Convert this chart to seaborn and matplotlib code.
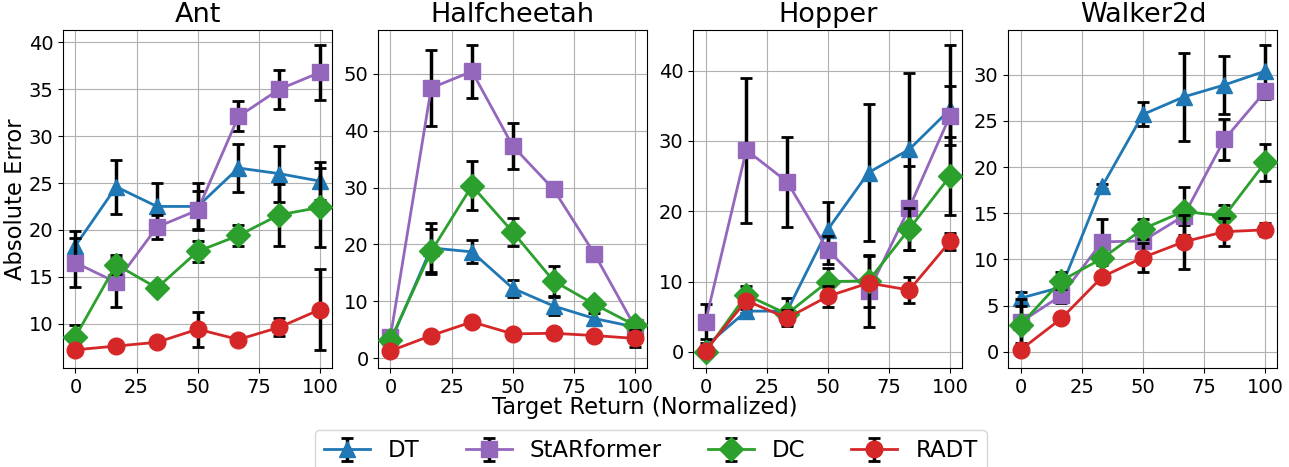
import numpy as np
import pandas as pd
import matplotlib
matplotlib.use("Agg")
import matplotlib.pyplot as plt
import seaborn as sns

# --- datos ---
x_vals = [0, 16.67, 33.33, 50, 66.67, 83.33, 100]
envs = ["Ant", "Halfcheetah", "Hopper", "Walker2d"]
methods = ["DT", "StARformer", "DC", "RADT"]

ant_dt = [18.3, 24.6, 22.5, 22.5, 26.6, 26.0, 25.2]
ant_dt_err = [1.6, 2.9, 2.5, 2.5, 2.6, 3.0, 2.0]
ant_star = [16.5, 14.4, 20.3, 22.1, 32.1, 35.0, 36.8]
ant_star_err = [2.6, 2.6, 1.3, 2.0, 1.6, 2.1, 2.9]
ant_dc = [8.6, 16.3, 13.8, 17.7, 19.4, 21.6, 22.4]
ant_dc_err = [1.3, 1.0, 0.5, 1.15, 1.1, 3.3, 4.2]
ant_radt = [7.2, 7.6, 8.0, 9.4, 8.3, 9.6, 11.5]
ant_radt_err = [0.3, 0.3, 0.3, 1.85, 0.4, 0.95, 4.3]

hc_dt = [2.9, 19.4, 18.7, 12.3, 9.2, 7.0, 5.5]
hc_dt_err = [0.5, 4.3, 2.0, 1.5, 1.6, 1.0, 0.5]
hc_star = [3.8, 47.5, 50.4, 37.3, 29.7, 18.4, 5.5]
hc_star_err = [0.5, 6.7, 4.6, 4.1, 1.0, 0.5, 0.5]
hc_dc = [3.2, 18.8, 30.3, 22.2, 13.6, 9.5, 5.8]
hc_dc_err = [0.5, 4.0, 4.3, 2.5, 2.6, 0.5, 0.5]
hc_radt = [1.3, 4.0, 6.4, 4.3, 4.4, 4.0, 3.5]
hc_radt_err = [0.3, 0.3, 0.3, 0.3, 0.3, 0.3, 1.5]

hop_dt = [0.8, 5.8, 5.8, 17.4, 25.5, 28.8, 34.5]
hop_dt_err = [0.5, 0.3, 1.8, 3.9, 9.7, 10.8, 9.1]
hop_star = [4.3, 28.7, 24.2, 14.5, 8.6, 20.5, 33.6]
hop_star_err = [2.5, 10.3, 6.4, 2.0, 5.1, 6.0, 4.2]
hop_dc = [0.0, 8.1, 5.4, 10.0, 10.1, 17.5, 25.0]
hop_dc_err = [0.1, 1.3, 0.5, 2.0, 3.7, 3.0, 5.6]
hop_radt = [0.2, 7.3, 4.8, 7.9, 9.8, 8.8, 15.7]
hop_radt_err = [0.2, 0.5, 1.1, 1.5, 0.5, 1.9, 1.2]

wk_dt = [5.8, 7.0, 17.9, 25.7, 27.6, 28.9, 30.4]
wk_dt_err = [0.7, 0.4, 0.3, 1.3, 4.8, 3.1, 2.8]
wk_star = [3.2, 6.1, 11.9, 12.0, 14.7, 23.0, 28.2]
wk_star_err = [2.5, 0.8, 2.5, 1.5, 1.0, 2.2, 0.8]
wk_dc = [2.9, 7.7, 10.1, 13.3, 15.2, 14.7, 20.5]
wk_dc_err = [2.0, 0.9, 0.5, 1.1, 2.6, 1.2, 2.0]
wk_radt = [0.2, 3.6, 8.1, 10.2, 11.9, 13.0, 13.2]
wk_radt_err = [0.3, 0.3, 0.3, 1.6, 2.9, 1.5, 0.7]

datos = {
    "Ant": [(ant_dt, ant_dt_err), (ant_star, ant_star_err), (ant_dc, ant_dc_err), (ant_radt, ant_radt_err)],
    "Halfcheetah": [(hc_dt, hc_dt_err), (hc_star, hc_star_err), (hc_dc, hc_dc_err), (hc_radt, hc_radt_err)],
    "Hopper": [(hop_dt, hop_dt_err), (hop_star, hop_star_err), (hop_dc, hop_dc_err), (hop_radt, hop_radt_err)],
    "Walker2d": [(wk_dt, wk_dt_err), (wk_star, wk_star_err), (wk_dc, wk_dc_err), (wk_radt, wk_radt_err)],
}

colores = ["tab:blue", "tab:purple", "tab:green", "tab:red"]
marcadores = ["^", "s", "D", "o"]

fig, axes = plt.subplots(1, 4, figsize=(12.89, 4.67), dpi=100)
plt.subplots_adjust(left=0.049, right=0.991, top=0.936, bottom=0.212, wspace=0.171)

handles = []
for k, env in enumerate(envs):
    ax = axes[k]
    for i, metodo in enumerate(methods):
        vals, errs = datos[env][i]
        df = pd.DataFrame({"x": x_vals, "y": vals})
        eb = ax.errorbar(df["x"], df["y"], yerr=errs, fmt="none", ecolor="black",
                         elinewidth=2.5, capsize=4, capthick=2, zorder=2 + 2 * i)
        sns.lineplot(data=df, x="x", y="y", color=colores[i], marker=marcadores[i],
                     markersize=12, markeredgecolor=colores[i], markeredgewidth=1,
                     linewidth=2, ax=ax, zorder=3 + 2 * i, legend=False)
        if k == 0:
            handles.append((eb, ax.lines[-1]))
    ax.set_title(env, fontsize=19.5)
    ax.set_xticks([0, 25, 50, 75, 100])
    ax.tick_params(labelsize=14)
    ax.grid(True, color="#b0b0b0", linewidth=0.8)
    ax.set_xlabel("")
    ax.set_ylabel("")

axes[0].set_ylabel("Absolute Error", fontsize=16.3)
axes[0].yaxis.set_label_coords(-0.134, 0.5)
fig.text(0.5, 0.128, "Target Return (Normalized)", ha="center", va="center", fontsize=16.3)

fig.legend(handles, methods, loc="upper center", bbox_to_anchor=(0.505, 0.079),
           borderaxespad=0, ncol=4, fontsize=16.5, frameon=True)

fig.savefig("out.png", dpi=100)
